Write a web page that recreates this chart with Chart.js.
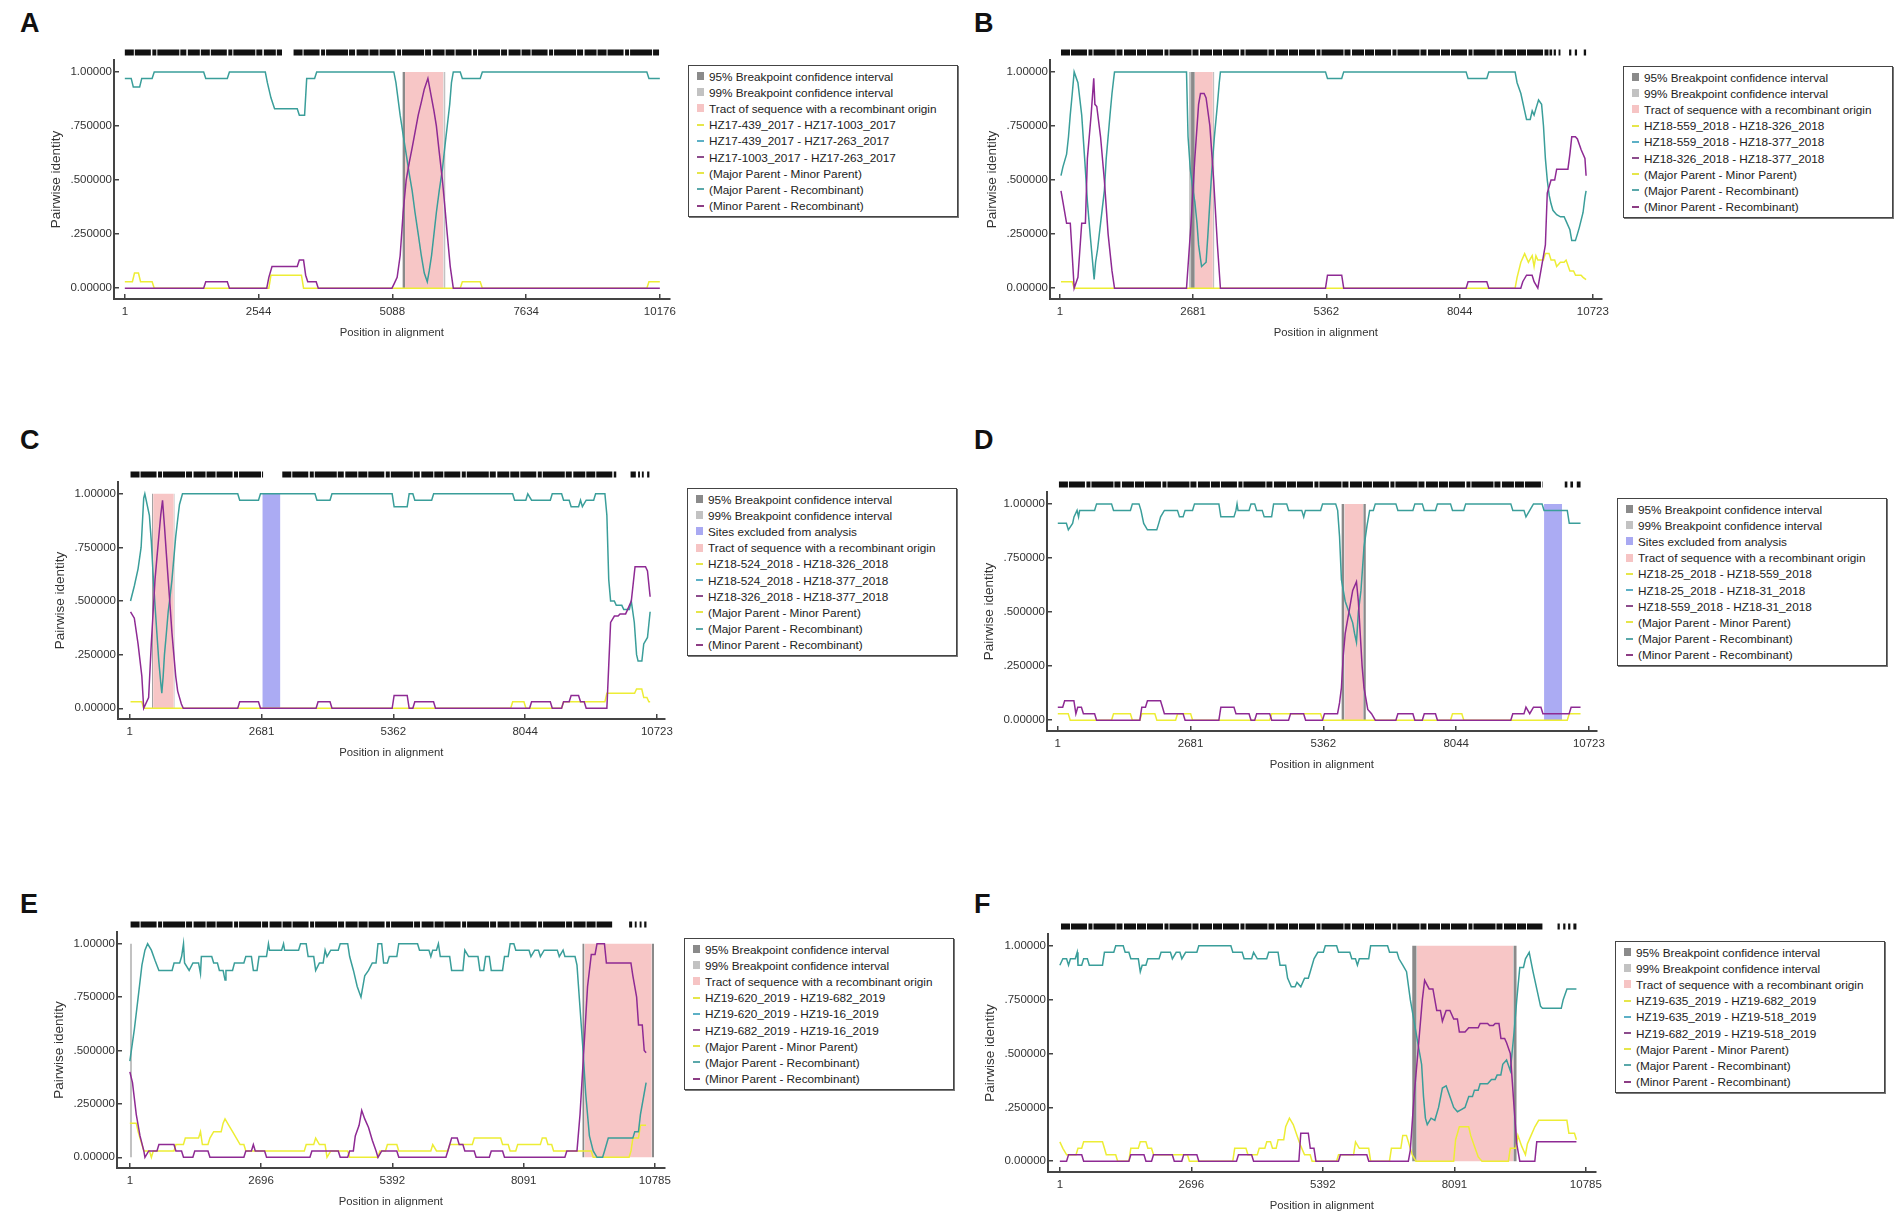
<!DOCTYPE html>
<html lang="en">
<head>
<meta charset="utf-8" />
<title>Recombination plots</title>
<script src="https://cdn.jsdelivr.net/npm/chart.js@4.4.0/dist/chart.umd.min.js"></script>
<style>
  html, body { margin: 0; padding: 0; background: #fff; }
  body { width: 1901px; height: 1232px; position: relative; overflow: hidden;
         font-family: "Liberation Sans", Arial, sans-serif; }
  canvas { position: absolute; }
  .letter { position: absolute; font-weight: bold; font-size: 27px; line-height: 1; color: #111; }
  .legend { position: absolute; width: 270px; box-sizing: border-box; background: #fff;
            border: 1px solid #444; box-shadow: 1px 1px 0 #777;
            padding: 2px 0 2px 8px; font-size: 11.75px; color: #222; }
  .legend .row { height: 16.2px; display: flex; align-items: center; white-space: nowrap; }
  .legend .sq { display: inline-block; width: 7px; height: 8px; margin-right: 5px; }
  .legend .ln { display: inline-block; width: 7px; height: 2px; margin-right: 5px; }
</style>
</head>
<body>
<script>
// ---- shared tick labels ----
const yTickValues = [0, 0.25, 0.5, 0.75, 1];
const yTickLabels = ['0.00000', '.250000', '.500000', '.750000', '1.00000'];
const parentLabels = ['(Major Parent - Minor Parent)', '(Major Parent - Recombinant)', '(Minor Parent - Recombinant)'];

// ---- panel A ----
const xTicksA = [1, 2544, 5088, 7634, 10176];
const pairsA = ['HZ17-439_2017 - HZ17-1003_2017', 'HZ17-439_2017 - HZ17-263_2017', 'HZ17-1003_2017 - HZ17-263_2017'];
const majorMinorA = [[1,0.03],[185,0.07],[300,0.03],[560,0],[2780,0.06],[3400,0],[6420,0.03],[6800,0],[9969,0.03],[10176,0.03]];
const majorRecA = [[1,0.97],[162,0.93],[323,0.97],[560,1],[1540,0.97],[1990,1],[2712,0.95],[2780,0.88],[2849,0.83],[3320,0.8],[3460,0.97],[3650,1],[5157,0.95],[5237,0.8],[5300,0.7],[5352,0.62],[5410,0.53],[5466,0.45],[5520,0.35],[5581,0.25],[5640,0.15],[5696,0.07],[5753,0.03],[5790,0.08],[5834,0.15],[5880,0.25],[5926,0.35],[5980,0.45],[6041,0.55],[6090,0.66],[6133,0.75],[6180,0.85],[6213,0.95],[6248,1],[6420,0.97],[6800,1],[9969,0.97],[10176,0.97]];
const minorRecA = [[1,0],[1540,0.03],[1990,0],[2740,0.05],[2800,0.1],[3320,0.13],[3440,0.06],[3480,0.03],[3680,0],[5122,0.02],[5180,0.05],[5237,0.15],[5294,0.35],[5352,0.5],[5410,0.58],[5466,0.65],[5520,0.72],[5581,0.8],[5640,0.86],[5696,0.92],[5765,0.97],[5834,0.88],[5880,0.82],[5926,0.75],[5980,0.63],[6041,0.5],[6090,0.37],[6133,0.25],[6190,0.1],[6248,0],[10176,0]];
const sitesA = [[1,2990],[3210,10176]];
const tractA = [[5330,6060]];
const ci95A = [[5280,5330]];
const ci99A = [[6060,6100]];
const excludedA = [];

// ---- panel B ----
const xTicksB = [1, 2681, 5362, 8044, 10723];
const pairsB = ['HZ18-559_2018 - HZ18-326_2018', 'HZ18-559_2018 - HZ18-377_2018', 'HZ18-326_2018 - HZ18-377_2018'];
const majorMinorB = [[24,0.03],[289,0],[9199,0.05],[9275,0.12],[9351,0.16],[9427,0.12],[9503,0.15],[9541,0.1],[9578,0.15],[9616,0.13],[9768,0.16],[9882,0.13],[9995,0.1],[10071,0.12],[10185,0.13],[10261,0.08],[10375,0.06],[10526,0.05],[10587,0.04]];
const majorRecB = [[24,0.52],[62,0.56],[137,0.62],[175,0.7],[210,0.8],[251,0.9],[289,1],[365,0.95],[441,0.8],[500,0.6],[555,0.4],[610,0.25],[668,0.1],[691,0.04],[720,0.12],[760,0.18],[820,0.3],[896,0.45],[934,0.6],[972,0.7],[1010,0.8],[1050,0.9],[1085,0.97],[1101,1],[2549,1],[2580,0.7],[2625,0.55],[2680,0.45],[2716,0.4],[2760,0.3],[2792,0.2],[2852,0.1],[2943,0.12],[2980,0.25],[3019,0.4],[3060,0.55],[3110,0.7],[3171,0.85],[3208,0.95],[3231,1],[5385,0.97],[5711,1],[8213,0.97],[8630,1],[9199,0.95],[9275,0.9],[9351,0.82],[9389,0.78],[9503,0.82],[9541,0.8],[9578,0.83],[9631,0.87],[9692,0.85],[9730,0.75],[9768,0.6],[9806,0.5],[9844,0.43],[9882,0.39],[9920,0.36],[9995,0.34],[10071,0.33],[10185,0.31],[10261,0.27],[10299,0.22],[10412,0.25],[10450,0.28],[10526,0.35],[10564,0.42],[10587,0.45]];
const minorRecB = [[24,0.45],[62,0.4],[137,0.3],[251,0.15],[289,0],[365,0.05],[441,0.3],[555,0.6],[630,0.8],[683,0.97],[706,0.85],[744,0.84],[820,0.7],[896,0.5],[972,0.25],[1050,0.08],[1101,0],[2549,0],[2640,0.3],[2716,0.6],[2792,0.85],[2830,0.9],[2943,0.88],[3019,0.75],[3095,0.5],[3171,0.2],[3231,0],[5385,0.06],[5711,0],[8213,0.03],[8630,0],[9313,0.03],[9389,0.06],[9541,0.03],[9616,0],[9692,0.1],[9768,0.2],[9806,0.44],[9882,0.5],[9995,0.55],[10261,0.62],[10299,0.7],[10412,0.69],[10488,0.64],[10564,0.6],[10587,0.52]];
const sitesB = [[24,9904],[9935,9980],[10033,10071],[10245,10290],[10360,10405],[10540,10587]];
const tractB = [[2716,3080]];
const ci95B = [[2640,2716]];
const ci99B = [[2600,2640],[3080,3110]];
const excludedB = [];

// ---- panel C ----
const xTicksC = [1, 2681, 5362, 8044, 10723];
const pairsC = ['HZ18-524_2018 - HZ18-326_2018', 'HZ18-524_2018 - HZ18-377_2018', 'HZ18-326_2018 - HZ18-377_2018'];
const majorMinorC = [[16,0.03],[284,0],[7790,0.03],[8059,0],[8825,0.03],[9706,0.07],[10310,0.09],[10456,0.05],[10560,0.03],[10586,0.03]];
const majorRecC = [[16,0.5],[93,0.57],[169,0.65],[231,0.75],[284,0.98],[307,1],[399,0.9],[438,0.78],[476,0.62],[514,0.48],[552,0.35],[591,0.22],[630,0.12],[652,0.07],[680,0.15],[706,0.25],[745,0.35],[782,0.45],[820,0.52],[859,0.6],[897,0.7],[935,0.8],[975,0.88],[1012,0.95],[1073,1],[2237,0.97],[2659,1],[3808,0.97],[4114,1],[5378,0.94],[5684,1],[5799,0.97],[6182,1],[7829,0.97],[8097,1],[8174,0.97],[8595,1],[8825,0.97],[8979,0.94],[9170,0.97],[9208,0.94],[9285,0.97],[9477,1],[9706,0.9],[9744,0.6],[9782,0.5],[9897,0.48],[10050,0.46],[10203,0.5],[10264,0.4],[10310,0.25],[10341,0.22],[10418,0.22],[10456,0.3],[10532,0.33],[10586,0.45]];
const minorRecC = [[16,0.45],[93,0.42],[169,0.3],[246,0.15],[284,0],[384,0.05],[438,0.3],[476,0.45],[514,0.6],[552,0.7],[591,0.8],[630,0.9],[667,0.97],[706,0.85],[745,0.72],[782,0.6],[820,0.48],[859,0.35],[897,0.25],[935,0.15],[975,0.08],[1050,0.02],[1089,0],[2237,0.03],[2659,0],[3831,0.03],[4114,0],[5378,0.06],[5684,0],[5799,0.03],[6220,0],[8174,0.03],[8595,0],[8825,0.03],[8979,0.06],[9170,0.03],[9285,0],[9706,0],[9744,0.2],[9782,0.4],[9859,0.43],[9974,0.44],[10127,0.46],[10203,0.5],[10279,0.66],[10418,0.66],[10532,0.64],[10586,0.52]];
const sitesC = [[16,2712],[3103,9897],[10188,10295],[10341,10379],[10418,10456],[10525,10571]];
const tractC = [[476,897]];
const ci95C = [[455,476]];
const ci99C = [[897,915]];
const excludedC = [[2697,3065]];

// ---- panel D ----
const xTicksD = [1, 2681, 5362, 8044, 10723];
const pairsD = ['HZ18-25_2018 - HZ18-559_2018', 'HZ18-25_2018 - HZ18-31_2018', 'HZ18-559_2018 - HZ18-31_2018'];
const majorMinorD = [[1,0.03],[252,0],[1126,0.03],[1507,0],[1697,0.03],[2001,0],[2419,0.03],[2723,0],[4320,0.03],[5347,0],[7970,0.03],[8198,0],[10327,0.03],[10555,0.03]];
const majorRecD = [[1,0.91],[214,0.88],[300,0.91],[328,0.94],[390,0.97],[420,0.94],[442,0.97],[784,1],[1126,0.97],[1507,1],[1680,0.97],[1735,0.91],[1811,0.88],[2039,0.91],[2077,0.94],[2153,0.97],[2457,0.94],[2571,0.97],[2761,1],[3293,0.94],[3598,0.97],[3620,1],[3640,0.97],[3902,1],[4016,0.97],[4168,0.94],[4358,1],[4662,0.97],[4966,0.94],[5000,0.97],[5347,1],[5651,0.97],[5689,0.85],[5727,0.65],[5803,0.55],[5879,0.5],[5955,0.45],[5993,0.4],[6031,0.36],[6069,0.5],[6122,0.6],[6183,0.8],[6244,0.9],[6297,0.97],[6411,1],[6867,0.97],[7210,1],[7400,0.97],[7666,1],[7970,0.97],[8236,1],[9187,0.97],[9453,0.94],[9529,0.97],[9605,1],[9818,0.97],[10327,0.91],[10555,0.91]];
const minorRecD = [[1,0.06],[140,0.09],[366,0.03],[404,0.06],[518,0.03],[784,0],[1697,0.06],[1811,0.09],[2115,0.06],[2153,0.03],[2571,0],[3293,0.06],[3598,0.03],[3902,0],[4016,0.03],[4320,0],[4700,0.03],[5004,0],[5385,0.03],[5689,0.08],[5727,0.15],[5765,0.3],[5803,0.4],[5879,0.5],[5955,0.6],[6031,0.64],[6069,0.55],[6107,0.4],[6145,0.25],[6183,0.15],[6259,0.05],[6335,0.03],[6411,0],[6867,0.03],[7210,0],[7400,0.03],[7666,0],[9187,0.03],[9453,0.06],[9529,0.03],[9605,0.06],[9795,0.03],[10365,0.06],[10555,0.06]];
const sitesD = [[24,9795],[10236,10289],[10350,10403],[10479,10555]];
const tractD = [[5788,6168]];
const ci95D = [[5727,5788],[6168,6221]];
const ci99D = [];
const excludedD = [[9818,10183]];

// ---- panel E ----
const xTicksE = [1, 2696, 5392, 8091, 10785];
const pairsE = ['HZ19-620_2019 - HZ19-682_2019', 'HZ19-620_2019 - HZ19-16_2019', 'HZ19-682_2019 - HZ19-16_2019'];
const majorMinorE = [[1,0.16],[172,0.12],[249,0.06],[288,0.03],[443,0],[482,0.03],[947,0.06],[1141,0.09],[1452,0.12],[1491,0.06],[1646,0.09],[1723,0.12],[1917,0.16],[1956,0.18],[2034,0.15],[2111,0.12],[2189,0.09],[2266,0.06],[2383,0.03],[3624,0.06],[3818,0.09],[3895,0.06],[4051,0],[4128,0.03],[4516,0],[5137,0.03],[5292,0.06],[5525,0.03],[6223,0.06],[6300,0.03],[6572,0.06],[7076,0.09],[7658,0.06],[7813,0.03],[7968,0.06],[8473,0.09],[8589,0.06],[8706,0.03],[9519,0],[10296,0.03],[10334,0.09],[10489,0.15],[10606,0.15]];
const majorRecE = [[1,0.45],[94,0.6],[172,0.75],[249,0.9],[311,0.97],[366,1],[443,0.97],[521,0.92],[598,0.875],[909,0.91],[1064,0.94],[1103,1],[1125,0.91],[1219,0.875],[1297,0.91],[1452,0.86],[1470,0.94],[1723,0.91],[1840,0.875],[1956,0.83],[1975,0.875],[2150,0.91],[2383,0.94],[2538,0.875],[2654,0.94],[2848,1],[2870,0.97],[3158,1],[3180,0.97],[3507,1],[3663,0.94],[3818,0.875],[3895,0.91],[4012,0.97],[4051,0.94],[4128,0.97],[4322,1],[4516,0.94],[4594,0.875],[4671,0.8],[4749,0.75],[4826,0.85],[4904,0.875],[4981,0.91],[5098,1],[5214,0.91],[5331,0.94],[5525,1],[5951,0.97],[6184,0.94],[6223,0.97],[6339,1],[6378,0.94],[6611,0.875],[6882,0.97],[6960,0.94],[7192,0.875],[7309,0.94],[7425,0.875],[7697,0.94],[7813,1],[7929,0.97],[8240,0.94],[8318,0.97],[8434,0.94],[8512,0.97],[8822,0.94],[8900,0.97],[8938,0.94],[9186,0.9],[9248,0.7],[9310,0.5],[9364,0.3],[9441,0.1],[9519,0.03],[9597,0],[9752,0.03],[9829,0.09],[10373,0.12],[10489,0.2],[10567,0.3],[10606,0.35]];
const minorRecE = [[1,0.4],[55,0.35],[133,0.2],[210,0.1],[288,0.03],[311,0],[389,0.03],[598,0.06],[947,0.03],[1103,0],[1335,0.03],[1646,0],[2383,0.03],[2538,0.06],[2577,0.03],[2809,0],[3740,0.03],[4322,0],[4516,0.03],[4632,0.1],[4710,0.15],[4764,0.22],[4826,0.18],[4904,0.14],[4981,0.08],[5059,0.03],[5098,0],[5175,0.03],[5525,0],[6533,0.03],[6611,0.09],[6766,0.06],[6882,0.03],[7114,0],[7425,0.03],[7697,0],[8977,0.03],[9186,0.03],[9248,0.2],[9326,0.5],[9403,0.8],[9480,0.95],[9597,1],[9790,0.91],[10334,0.85],[10411,0.75],[10450,0.62],[10567,0.5],[10606,0.49]];
const sitesE = [[16,9908],[10257,10319],[10373,10411],[10473,10512],[10567,10613]];
const tractE = [[9341,10722]];
const ci95E = [[9295,9341],[10722,10769]];
const ci99E = [[1,45]];
const excludedE = [];

// ---- panel F ----
const xTicksF = [1, 2696, 5392, 8091, 10785];
const pairsF = ['HZ19-635_2019 - HZ19-682_2019', 'HZ19-635_2019 - HZ19-518_2019', 'HZ19-682_2019 - HZ19-518_2019'];
const majorMinorF = [[1,0.09],[63,0.06],[140,0.03],[373,0.06],[489,0.09],[915,0.06],[953,0.03],[1186,0],[1456,0.06],[1650,0.09],[1805,0.06],[1921,0.03],[2657,0],[3586,0.06],[3857,0.03],[4089,0.06],[4244,0.09],[4360,0.06],[4476,0.1],[4631,0.16],[4708,0.2],[4786,0.17],[4863,0.12],[4941,0.07],[5018,0.03],[5173,0],[5715,0.03],[6063,0.09],[6141,0.06],[6373,0],[6799,0.06],[7032,0.12],[7147,0.09],[7225,0.03],[7302,0],[8115,0.1],[8192,0.16],[8424,0.12],[8501,0.07],[8579,0.02],[8656,0],[9237,0.06],[9392,0.12],[9469,0.07],[9547,0.03],[9586,0.08],[9663,0.12],[9740,0.16],[9818,0.19],[10437,0.13],[10592,0.1]];
const majorRecF = [[1,0.91],[63,0.94],[179,0.91],[218,0.94],[357,0.97],[373,0.91],[489,0.94],[605,0.91],[915,0.97],[1147,1],[1340,0.97],[1456,0.94],[1650,0.88],[1689,0.91],[1805,0.94],[2076,0.97],[2308,0.94],[2386,0.97],[2502,0.94],[2579,0.97],[2850,1],[3547,0.97],[3779,0.94],[3973,0.97],[4050,0.94],[4282,0.97],[4515,0.91],[4670,0.85],[4747,0.81],[4863,0.83],[4941,0.81],[5018,0.85],[5135,0.88],[5212,0.94],[5289,0.97],[5444,1],[5715,0.97],[5986,0.94],[6102,0.91],[6141,0.94],[6373,1],[6760,0.97],[6954,0.94],[7032,0.91],[7109,0.88],[7186,0.75],[7263,0.65],[7340,0.55],[7418,0.45],[7457,0.3],[7496,0.2],[7534,0.17],[7612,0.2],[7689,0.19],[7766,0.25],[7844,0.34],[7921,0.35],[7998,0.3],[8076,0.25],[8153,0.23],[8231,0.24],[8308,0.25],[8385,0.3],[8501,0.33],[8618,0.36],[8772,0.36],[8850,0.38],[8966,0.4],[9082,0.45],[9160,0.47],[9237,0.42],[9314,0.6],[9369,0.75],[9431,0.9],[9547,0.94],[9624,0.97],[9702,0.88],[9779,0.8],[9856,0.72],[9895,0.71],[10321,0.75],[10398,0.8],[10592,0.8]];
const minorRecF = [[1,0],[179,0.03],[489,0],[1456,0.03],[1766,0],[1921,0.03],[2347,0],[2540,0.03],[2850,0],[3663,0.03],[3973,0],[4941,0.13],[5135,0.06],[5251,0],[5753,0.03],[6334,0],[7186,0.05],[7263,0.3],[7340,0.5],[7433,0.75],[7480,0.84],[7573,0.8],[7650,0.8],[7728,0.7],[7844,0.65],[7921,0.7],[7998,0.7],[8076,0.66],[8192,0.6],[8308,0.6],[8385,0.62],[8501,0.62],[8618,0.64],[8695,0.64],[8811,0.63],[8927,0.64],[9044,0.57],[9160,0.55],[9237,0.5],[9314,0.25],[9369,0.08],[9431,0],[9779,0.09],[10592,0.09]];
const sitesF = [[24,9895],[10205,10251],[10321,10367],[10422,10468],[10530,10592]];
const tractF = [[7317,9299]];
const ci95F = [[7224,7317],[9299,9368]];
const ci99F = [];
const excludedF = [];

// ---- styling ----
const FONT = '"Liberation Sans", Arial, sans-serif';
const YELLOW = '#eded35';
const TEAL = '#3a9e9a';
const PURPLE = '#8e2a94';
const PINK = 'rgba(244,176,176,0.72)';
const GRAY95 = '#8a8a8a';
const GRAY99 = '#c2c2c2';
const BLUE = 'rgba(150,150,240,0.8)';
const SITE_Y = 1.09;
const RISE = 40;     // width (in positions) of the slanted edge of a plateau step
const SITE_DASH = [9, 1, 16, 1.5, 4, 1, 22, 1, 6, 1.5, 12, 1];

// where each panel sits on the page (axis line x, plot top, x-axis line y, plot right)
const panels = [
  { id: 'A', axisX: 114, top: 60, axisY: 299, right: 677, xMin: -205, xMax: 10364, letter: [20, 10], legend: [688, 65],
    xTicks: xTicksA, pairs: pairsA, mm: majorMinorA, mr: majorRecA, nr: minorRecA, sites: sitesA, tract: tractA, ci95: ci95A, ci99: ci99A, excl: excludedA },
  { id: 'B', axisX: 1050, top: 60, axisY: 299, right: 1610, xMin: -197, xMax: 10901, letter: [974, 10], legend: [1623, 66],
    xTicks: xTicksB, pairs: pairsB, mm: majorMinorB, mr: majorRecB, nr: minorRecB, sites: sitesB, tract: tractB, ci95: ci95B, ci99: ci99B, excl: excludedB },
  { id: 'C', axisX: 118, top: 482, axisY: 719, right: 674, xMin: -239, xMax: 10883, letter: [20, 427], legend: [687, 488],
    xTicks: xTicksC, pairs: pairsC, mm: majorMinorC, mr: majorRecC, nr: minorRecC, sites: sitesC, tract: tractC, ci95: ci95C, ci99: ci99C, excl: excludedC },
  { id: 'D', axisX: 1047, top: 492, axisY: 731, right: 1606, xMin: -217, xMax: 10882, letter: [974, 427], legend: [1617, 498],
    xTicks: xTicksD, pairs: pairsD, mm: majorMinorD, mr: majorRecD, nr: minorRecD, sites: sitesD, tract: tractD, ci95: ci95D, ci99: ci99D, excl: excludedD },
  { id: 'E', axisX: 117, top: 932, axisY: 1168, right: 672, xMin: -263, xMax: 10988, letter: [20, 891], legend: [684, 938],
    xTicks: xTicksE, pairs: pairsE, mm: majorMinorE, mr: majorRecE, nr: minorRecE, sites: sitesE, tract: tractE, ci95: ci95E, ci99: ci99E, excl: excludedE },
  { id: 'F', axisX: 1048, top: 934, axisY: 1172, right: 1603, xMin: -242, xMax: 10987, letter: [974, 891], legend: [1615, 941],
    xTicks: xTicksF, pairs: pairsF, mm: majorMinorF, mr: majorRecF, nr: minorRecF, sites: sitesF, tract: tractF, ci95: ci95F, ci99: ci99F, excl: excludedF }
];

const Y_AXIS_W = 70, X_AXIS_H = 48, PAD_TOP = 20, PAD_RIGHT = 10;

// each [x, y] is where a value starts; close points are joined straight (slopes),
// far apart ones hold the value and rise just before the next point
function stepLine(points, color) {
  const data = [{ x: points[0][0], y: points[0][1] }];
  for (let i = 1; i < points.length; i++) {
    const prev = points[i - 1], cur = points[i];
    if (cur[0] - prev[0] > 100) data.push({ x: cur[0] - RISE, y: prev[1] });
    data.push({ x: cur[0], y: cur[1] });
  }
  return { data, borderColor: color, borderWidth: 1.5, pointRadius: 0, fill: false, tension: 0 };
}

function band(range, color) {
  return { data: [{ x: range[0], y: 1 }, { x: range[1], y: 1 }], borderColor: 'rgba(0,0,0,0)', borderWidth: 0,
           backgroundColor: color, fill: { value: 0 }, pointRadius: 0 };
}

function siteMarks(segs) {
  const data = [];
  segs.forEach(s => { data.push({ x: s[0], y: SITE_Y }, { x: s[1], y: SITE_Y }, { x: s[1], y: null }); });
  return { data, borderColor: '#111', borderWidth: 6, borderDash: SITE_DASH, borderCapStyle: 'butt',
           pointRadius: 0, spanGaps: false, clip: false, fill: false };
}

function addLegend(p) {
  const box = document.createElement('div');
  box.className = 'legend';
  box.style.left = p.legend[0] + 'px';
  box.style.top = p.legend[1] + 'px';
  const items = [
    { sq: GRAY95, text: '95% Breakpoint confidence interval' },
    { sq: GRAY99, text: '99% Breakpoint confidence interval' }
  ];
  if (p.excl.length) items.push({ sq: '#a9a9f2', text: 'Sites excluded from analysis' });
  items.push({ sq: '#f6c4c4', text: 'Tract of sequence with a recombinant origin' });
  items.push({ ln: '#e6e64a', text: p.pairs[0] });
  items.push({ ln: '#5cb0c6', text: p.pairs[1] });
  items.push({ ln: '#8c4c8c', text: p.pairs[2] });
  items.push({ ln: '#e6e64a', text: parentLabels[0] });
  items.push({ ln: '#5aa8aa', text: parentLabels[1] });
  items.push({ ln: '#8c3c84', text: parentLabels[2] });
  items.forEach(it => {
    const row = document.createElement('div');
    row.className = 'row';
    const sw = document.createElement('span');
    sw.className = it.sq ? 'sq' : 'ln';
    sw.style.background = it.sq || it.ln;
    row.appendChild(sw);
    row.appendChild(document.createTextNode(it.text));
    box.appendChild(row);
  });
  document.body.appendChild(box);
}

panels.forEach(p => {
  const letter = document.createElement('div');
  letter.className = 'letter';
  letter.textContent = p.id;
  letter.style.left = p.letter[0] + 'px';
  letter.style.top = p.letter[1] + 'px';
  document.body.appendChild(letter);

  const canvas = document.createElement('canvas');
  const left = p.axisX - Y_AXIS_W;
  const top = p.top - PAD_TOP;
  canvas.width = p.right + PAD_RIGHT - left;
  canvas.height = PAD_TOP + (p.axisY - p.top) + X_AXIS_H;
  canvas.style.left = left + 'px';
  canvas.style.top = top + 'px';
  document.body.appendChild(canvas);

  const datasets = [
    stepLine(p.nr, PURPLE),
    stepLine(p.mr, TEAL),
    stepLine(p.mm, YELLOW),
    siteMarks(p.sites)
  ];
  p.ci95.forEach(r => datasets.push(band(r, GRAY95)));
  p.ci99.forEach(r => datasets.push(band(r, GRAY99)));
  p.excl.forEach(r => datasets.push(band(r, BLUE)));
  p.tract.forEach(r => datasets.push(band(r, PINK)));

  new Chart(canvas.getContext('2d'), {
    type: 'line',
    data: { datasets },
    options: {
      responsive: false,
      animation: false,
      events: [],
      layout: { padding: { top: PAD_TOP, right: PAD_RIGHT, left: 0, bottom: 0 } },
      plugins: { legend: { display: false }, tooltip: { enabled: false } },
      scales: {
        x: {
          type: 'linear', min: p.xMin, max: p.xMax,
          afterBuildTicks: s => { s.ticks = p.xTicks.map(v => ({ value: v })); },
          afterFit: s => { s.height = X_AXIS_H; },
          ticks: { autoSkip: false, maxRotation: 0, padding: 11, color: '#333',
                   font: { size: 11.5, family: FONT }, callback: v => String(v) },
          grid: { drawOnChartArea: false, tickLength: -5, color: '#444', lineWidth: 1.5 },
          border: { color: '#444', width: 2 },
          title: { display: true, text: 'Position in alignment', color: '#333',
                   font: { size: 11.3, family: FONT }, padding: { top: 0, bottom: 7 } }
        },
        y: {
          min: -0.05, max: 1.055,
          afterBuildTicks: s => { s.ticks = yTickValues.map(v => ({ value: v })); },
          afterFit: s => { s.width = Y_AXIS_W; },
          ticks: { autoSkip: false, padding: 7, color: '#333', font: { size: 11.5, family: FONT },
                   callback: v => yTickLabels[yTickValues.indexOf(v)] },
          grid: { drawOnChartArea: false, tickLength: -5, color: '#444', lineWidth: 1.5 },
          border: { color: '#444', width: 2 },
          title: { display: true, text: 'Pairwise identity', color: '#333',
                   font: { size: 13.5, family: FONT }, padding: { top: 4, bottom: 0 } }
        }
      }
    }
  });

  addLegend(p);
});
</script>
</body>
</html>
